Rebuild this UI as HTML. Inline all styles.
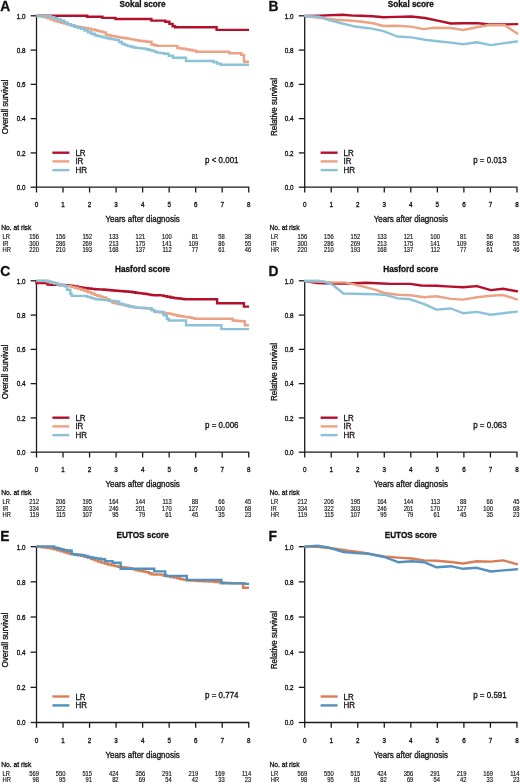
<!DOCTYPE html>
<html><head><meta charset="utf-8"><title>Survival curves</title>
<style>
html,body{margin:0;padding:0;background:#fff;}
body{width:520px;height:784px;overflow:hidden;}
svg{display:block;font-family:"Liberation Sans", sans-serif;filter:blur(0.3px);}
text{stroke:#151515;stroke-width:0.3px;}
.tb{stroke-width:0.15px;}
</style></head>
<body>
<svg width="520" height="784" viewBox="0 0 520 784">
<rect width="520" height="784" fill="#fff"/>
<text transform="translate(0.30,10.90) scale(1,1.06)" font-size="13.8" text-anchor="start" font-weight="bold" fill="#111" >A</text>
<text x="142.60" y="7.20" font-size="8.2" text-anchor="middle" font-weight="bold" fill="#111" >Sokal score</text>
<line x1="36.50" y1="15.30" x2="36.50" y2="187.70" stroke="#1a1a1a" stroke-width="1.3"/>
<line x1="30.60" y1="187.20" x2="36.50" y2="187.20" stroke="#1a1a1a" stroke-width="1.3"/>
<text transform="translate(25.40,190.00) scale(1,1.18)" font-size="6.3" text-anchor="end" font-weight="normal" fill="#151515" >0.0</text>
<line x1="30.60" y1="152.92" x2="36.50" y2="152.92" stroke="#1a1a1a" stroke-width="1.3"/>
<text transform="translate(25.40,155.72) scale(1,1.18)" font-size="6.3" text-anchor="end" font-weight="normal" fill="#151515" >0.2</text>
<line x1="30.60" y1="118.64" x2="36.50" y2="118.64" stroke="#1a1a1a" stroke-width="1.3"/>
<text transform="translate(25.40,121.44) scale(1,1.18)" font-size="6.3" text-anchor="end" font-weight="normal" fill="#151515" >0.4</text>
<line x1="30.60" y1="84.36" x2="36.50" y2="84.36" stroke="#1a1a1a" stroke-width="1.3"/>
<text transform="translate(25.40,87.16) scale(1,1.18)" font-size="6.3" text-anchor="end" font-weight="normal" fill="#151515" >0.6</text>
<line x1="30.60" y1="50.08" x2="36.50" y2="50.08" stroke="#1a1a1a" stroke-width="1.3"/>
<text transform="translate(25.40,52.88) scale(1,1.18)" font-size="6.3" text-anchor="end" font-weight="normal" fill="#151515" >0.8</text>
<line x1="30.60" y1="15.80" x2="36.50" y2="15.80" stroke="#1a1a1a" stroke-width="1.3"/>
<text transform="translate(25.40,18.60) scale(1,1.18)" font-size="6.3" text-anchor="end" font-weight="normal" fill="#151515" >1.0</text>
<text x="0" y="0" font-size="8" text-anchor="middle" fill="#151515" transform="translate(8.40,107.00) rotate(-90) scale(1,1.1)">Overall survival</text>
<line x1="36.00" y1="187.20" x2="249.25" y2="187.20" stroke="#1a1a1a" stroke-width="1.3"/>
<line x1="36.50" y1="187.20" x2="36.50" y2="192.50" stroke="#1a1a1a" stroke-width="1.3"/>
<text transform="translate(36.50,207.00) scale(1,1.18)" font-size="6.3" text-anchor="middle" font-weight="normal" fill="#151515" >0</text>
<line x1="63.03" y1="187.20" x2="63.03" y2="192.50" stroke="#1a1a1a" stroke-width="1.3"/>
<text transform="translate(63.03,207.00) scale(1,1.18)" font-size="6.3" text-anchor="middle" font-weight="normal" fill="#151515" >1</text>
<line x1="89.56" y1="187.20" x2="89.56" y2="192.50" stroke="#1a1a1a" stroke-width="1.3"/>
<text transform="translate(89.56,207.00) scale(1,1.18)" font-size="6.3" text-anchor="middle" font-weight="normal" fill="#151515" >2</text>
<line x1="116.09" y1="187.20" x2="116.09" y2="192.50" stroke="#1a1a1a" stroke-width="1.3"/>
<text transform="translate(116.09,207.00) scale(1,1.18)" font-size="6.3" text-anchor="middle" font-weight="normal" fill="#151515" >3</text>
<line x1="142.62" y1="187.20" x2="142.62" y2="192.50" stroke="#1a1a1a" stroke-width="1.3"/>
<text transform="translate(142.62,207.00) scale(1,1.18)" font-size="6.3" text-anchor="middle" font-weight="normal" fill="#151515" >4</text>
<line x1="169.16" y1="187.20" x2="169.16" y2="192.50" stroke="#1a1a1a" stroke-width="1.3"/>
<text transform="translate(169.16,207.00) scale(1,1.18)" font-size="6.3" text-anchor="middle" font-weight="normal" fill="#151515" >5</text>
<line x1="195.69" y1="187.20" x2="195.69" y2="192.50" stroke="#1a1a1a" stroke-width="1.3"/>
<text transform="translate(195.69,207.00) scale(1,1.18)" font-size="6.3" text-anchor="middle" font-weight="normal" fill="#151515" >6</text>
<line x1="222.22" y1="187.20" x2="222.22" y2="192.50" stroke="#1a1a1a" stroke-width="1.3"/>
<text transform="translate(222.22,207.00) scale(1,1.18)" font-size="6.3" text-anchor="middle" font-weight="normal" fill="#151515" >7</text>
<line x1="248.75" y1="187.20" x2="248.75" y2="192.50" stroke="#1a1a1a" stroke-width="1.3"/>
<text transform="translate(248.75,207.00) scale(1,1.18)" font-size="6.3" text-anchor="middle" font-weight="normal" fill="#151515" >8</text>
<text transform="translate(142.60,221.90) scale(1,1.1)" font-size="8" text-anchor="middle" font-weight="normal" fill="#151515" >Years after diagnosis</text>
<text transform="translate(1.20,230.10) scale(1,1.1)" font-size="6.7" text-anchor="start" font-weight="normal" fill="#151515" >No. at risk</text>
<text transform="translate(2.60,238.80) scale(1,1.1)" font-size="5.8" text-anchor="start" font-weight="normal" fill="#151515" class="tb">LR</text>
<text transform="translate(39.00,238.80) scale(1,1.1)" font-size="5.8" text-anchor="end" font-weight="normal" fill="#151515" class="tb">156</text>
<text transform="translate(65.53,238.80) scale(1,1.1)" font-size="5.8" text-anchor="end" font-weight="normal" fill="#151515" class="tb">156</text>
<text transform="translate(92.06,238.80) scale(1,1.1)" font-size="5.8" text-anchor="end" font-weight="normal" fill="#151515" class="tb">152</text>
<text transform="translate(118.59,238.80) scale(1,1.1)" font-size="5.8" text-anchor="end" font-weight="normal" fill="#151515" class="tb">133</text>
<text transform="translate(145.12,238.80) scale(1,1.1)" font-size="5.8" text-anchor="end" font-weight="normal" fill="#151515" class="tb">121</text>
<text transform="translate(171.66,238.80) scale(1,1.1)" font-size="5.8" text-anchor="end" font-weight="normal" fill="#151515" class="tb">100</text>
<text transform="translate(198.19,238.80) scale(1,1.1)" font-size="5.8" text-anchor="end" font-weight="normal" fill="#151515" class="tb">81</text>
<text transform="translate(224.72,238.80) scale(1,1.1)" font-size="5.8" text-anchor="end" font-weight="normal" fill="#151515" class="tb">58</text>
<text transform="translate(251.25,238.80) scale(1,1.1)" font-size="5.8" text-anchor="end" font-weight="normal" fill="#151515" class="tb">38</text>
<text transform="translate(2.60,245.60) scale(1,1.1)" font-size="5.8" text-anchor="start" font-weight="normal" fill="#151515" class="tb">IR</text>
<text transform="translate(39.00,245.60) scale(1,1.1)" font-size="5.8" text-anchor="end" font-weight="normal" fill="#151515" class="tb">300</text>
<text transform="translate(65.53,245.60) scale(1,1.1)" font-size="5.8" text-anchor="end" font-weight="normal" fill="#151515" class="tb">286</text>
<text transform="translate(92.06,245.60) scale(1,1.1)" font-size="5.8" text-anchor="end" font-weight="normal" fill="#151515" class="tb">269</text>
<text transform="translate(118.59,245.60) scale(1,1.1)" font-size="5.8" text-anchor="end" font-weight="normal" fill="#151515" class="tb">213</text>
<text transform="translate(145.12,245.60) scale(1,1.1)" font-size="5.8" text-anchor="end" font-weight="normal" fill="#151515" class="tb">175</text>
<text transform="translate(171.66,245.60) scale(1,1.1)" font-size="5.8" text-anchor="end" font-weight="normal" fill="#151515" class="tb">141</text>
<text transform="translate(198.19,245.60) scale(1,1.1)" font-size="5.8" text-anchor="end" font-weight="normal" fill="#151515" class="tb">109</text>
<text transform="translate(224.72,245.60) scale(1,1.1)" font-size="5.8" text-anchor="end" font-weight="normal" fill="#151515" class="tb">86</text>
<text transform="translate(251.25,245.60) scale(1,1.1)" font-size="5.8" text-anchor="end" font-weight="normal" fill="#151515" class="tb">55</text>
<text transform="translate(2.60,252.30) scale(1,1.1)" font-size="5.8" text-anchor="start" font-weight="normal" fill="#151515" class="tb">HR</text>
<text transform="translate(39.00,252.30) scale(1,1.1)" font-size="5.8" text-anchor="end" font-weight="normal" fill="#151515" class="tb">220</text>
<text transform="translate(65.53,252.30) scale(1,1.1)" font-size="5.8" text-anchor="end" font-weight="normal" fill="#151515" class="tb">210</text>
<text transform="translate(92.06,252.30) scale(1,1.1)" font-size="5.8" text-anchor="end" font-weight="normal" fill="#151515" class="tb">193</text>
<text transform="translate(118.59,252.30) scale(1,1.1)" font-size="5.8" text-anchor="end" font-weight="normal" fill="#151515" class="tb">168</text>
<text transform="translate(145.12,252.30) scale(1,1.1)" font-size="5.8" text-anchor="end" font-weight="normal" fill="#151515" class="tb">137</text>
<text transform="translate(171.66,252.30) scale(1,1.1)" font-size="5.8" text-anchor="end" font-weight="normal" fill="#151515" class="tb">112</text>
<text transform="translate(198.19,252.30) scale(1,1.1)" font-size="5.8" text-anchor="end" font-weight="normal" fill="#151515" class="tb">77</text>
<text transform="translate(224.72,252.30) scale(1,1.1)" font-size="5.8" text-anchor="end" font-weight="normal" fill="#151515" class="tb">61</text>
<text transform="translate(251.25,252.30) scale(1,1.1)" font-size="5.8" text-anchor="end" font-weight="normal" fill="#151515" class="tb">46</text>
<line x1="52.40" y1="152.70" x2="69.40" y2="152.70" stroke="#b3102c" stroke-width="2.4"/>
<text transform="translate(75.40,155.70) scale(1,1.1)" font-size="8" text-anchor="start" font-weight="normal" fill="#151515" >LR</text>
<line x1="52.40" y1="161.40" x2="69.40" y2="161.40" stroke="#eba384" stroke-width="2.4"/>
<text transform="translate(75.40,164.40) scale(1,1.1)" font-size="8" text-anchor="start" font-weight="normal" fill="#151515" >IR</text>
<line x1="52.40" y1="170.10" x2="69.40" y2="170.10" stroke="#8cc2d8" stroke-width="2.4"/>
<text transform="translate(75.40,173.10) scale(1,1.1)" font-size="8" text-anchor="start" font-weight="normal" fill="#151515" >HR</text>
<text transform="translate(205.00,163.40) scale(1,1.1)" font-size="8" text-anchor="start" font-weight="normal" fill="#151515" >p &lt; 0.001</text>
<polyline points="36.50,15.70 87.20,15.70 87.20,16.80 102.40,16.80 102.40,17.90 115.40,17.90 115.40,19.00 151.40,19.00 151.40,20.60 163.00,20.60 165.30,20.60 165.30,21.80 169.40,21.80 169.40,23.90 172.60,23.90 172.60,26.30 175.10,26.30 175.10,27.30 216.60,27.30 216.60,29.90 249.00,29.90" fill="none" stroke="#b3102c" stroke-width="2.4" stroke-linejoin="miter" stroke-linecap="butt"/>
<polyline points="36.50,16.00 40.70,16.00 40.70,16.50 44.10,16.50 44.10,17.40 47.50,17.40 47.50,18.30 50.85,18.30 50.85,19.55 54.20,19.55 54.20,20.80 57.55,20.80 57.55,21.80 60.90,21.80 60.90,22.80 64.25,22.80 64.25,23.65 67.60,23.65 67.60,24.50 71.00,24.50 71.00,25.35 74.40,25.35 74.40,26.20 77.75,26.20 77.75,26.85 81.10,26.85 81.10,27.50 84.45,27.50 84.45,28.15 87.80,28.15 87.80,28.80 91.20,28.80 91.20,29.50 94.60,29.50 94.60,30.20 97.43,30.20 97.43,30.93 100.27,30.93 100.27,31.67 103.10,31.67 103.10,32.40 105.80,32.40 105.80,34.70 108.47,34.70 108.47,35.27 111.13,35.27 111.13,35.83 113.80,35.83 113.80,36.40 116.50,36.40 116.50,36.87 119.20,36.87 119.20,37.33 121.90,37.33 121.90,37.80 124.60,37.80 124.60,38.23 127.30,38.23 127.30,38.67 130.00,38.67 130.00,39.10 132.70,39.10 132.70,39.63 135.40,39.63 135.40,40.17 138.10,40.17 138.10,40.70 141.23,40.70 141.23,41.07 144.37,41.07 144.37,41.43 147.50,41.43 147.50,41.80 151.50,41.80 151.50,44.50 154.20,44.50 154.20,45.20 156.90,45.20 156.90,45.90 177.30,45.90 177.30,48.00 179.90,48.00 179.90,48.40 182.50,48.40 182.50,48.80 185.97,48.80 185.97,49.40 189.43,49.40 189.43,50.00 192.90,50.00 192.90,50.60 196.30,50.60 196.30,51.80 229.20,51.80 229.20,53.20 241.30,53.20 241.30,54.90 243.90,54.90 243.90,61.80 249.00,61.80" fill="none" stroke="#eba384" stroke-width="2.4" stroke-linejoin="miter" stroke-linecap="butt"/>
<polyline points="36.50,16.00 39.25,16.00 39.25,16.02 42.00,16.02 42.00,16.05 44.75,16.05 44.75,16.08 47.50,16.08 47.50,16.10 50.85,16.10 50.85,17.20 54.20,17.20 54.20,18.30 57.55,18.30 57.55,19.55 60.90,19.55 60.90,20.80 64.25,20.80 64.25,22.45 67.60,22.45 67.60,24.10 71.00,24.10 71.00,25.45 74.40,25.45 74.40,26.80 77.75,26.80 77.75,27.80 81.10,27.80 81.10,28.80 84.45,28.80 84.45,30.50 87.80,30.50 87.80,32.20 91.20,32.20 91.20,33.70 94.60,33.70 94.60,35.20 97.43,35.20 97.43,35.93 100.27,35.93 100.27,36.67 103.10,36.67 103.10,37.40 105.80,37.40 105.80,37.97 108.50,37.97 108.50,38.53 111.20,38.53 111.20,39.10 113.85,39.10 113.85,39.60 116.50,39.60 116.50,40.10 119.20,40.10 119.20,41.95 121.90,41.95 121.90,43.80 124.60,43.80 124.60,44.85 127.30,44.85 127.30,45.90 130.00,45.90 130.00,46.57 132.70,46.57 132.70,47.23 135.40,47.23 135.40,47.90 138.10,47.90 138.10,48.13 140.80,48.13 140.80,48.37 143.50,48.37 143.50,48.60 146.17,48.60 146.17,49.27 148.83,49.27 148.83,49.93 151.50,49.93 151.50,50.60 154.20,50.60 154.20,51.60 156.90,51.60 156.90,52.60 160.60,52.60 160.60,53.15 164.30,53.15 164.30,53.70 168.70,53.70 168.70,55.80 173.00,55.80 173.00,57.80 186.00,57.80 186.00,61.00 213.60,61.00 213.60,62.30 217.10,62.30 217.10,63.60 220.60,63.60 220.60,64.80 249.00,64.80" fill="none" stroke="#8cc2d8" stroke-width="2.4" stroke-linejoin="miter" stroke-linecap="butt"/>
<text transform="translate(268.50,10.90) scale(1,1.06)" font-size="13.8" text-anchor="start" font-weight="bold" fill="#111" >B</text>
<text x="410.80" y="7.20" font-size="8.2" text-anchor="middle" font-weight="bold" fill="#111" >Sokal score</text>
<line x1="304.70" y1="15.30" x2="304.70" y2="187.70" stroke="#1a1a1a" stroke-width="1.3"/>
<line x1="298.80" y1="187.20" x2="304.70" y2="187.20" stroke="#1a1a1a" stroke-width="1.3"/>
<text transform="translate(293.60,190.00) scale(1,1.18)" font-size="6.3" text-anchor="end" font-weight="normal" fill="#151515" >0.0</text>
<line x1="298.80" y1="152.92" x2="304.70" y2="152.92" stroke="#1a1a1a" stroke-width="1.3"/>
<text transform="translate(293.60,155.72) scale(1,1.18)" font-size="6.3" text-anchor="end" font-weight="normal" fill="#151515" >0.2</text>
<line x1="298.80" y1="118.64" x2="304.70" y2="118.64" stroke="#1a1a1a" stroke-width="1.3"/>
<text transform="translate(293.60,121.44) scale(1,1.18)" font-size="6.3" text-anchor="end" font-weight="normal" fill="#151515" >0.4</text>
<line x1="298.80" y1="84.36" x2="304.70" y2="84.36" stroke="#1a1a1a" stroke-width="1.3"/>
<text transform="translate(293.60,87.16) scale(1,1.18)" font-size="6.3" text-anchor="end" font-weight="normal" fill="#151515" >0.6</text>
<line x1="298.80" y1="50.08" x2="304.70" y2="50.08" stroke="#1a1a1a" stroke-width="1.3"/>
<text transform="translate(293.60,52.88) scale(1,1.18)" font-size="6.3" text-anchor="end" font-weight="normal" fill="#151515" >0.8</text>
<line x1="298.80" y1="15.80" x2="304.70" y2="15.80" stroke="#1a1a1a" stroke-width="1.3"/>
<text transform="translate(293.60,18.60) scale(1,1.18)" font-size="6.3" text-anchor="end" font-weight="normal" fill="#151515" >1.0</text>
<text x="0" y="0" font-size="8" text-anchor="middle" fill="#151515" transform="translate(276.60,107.00) rotate(-90) scale(1,1.1)">Relative survival</text>
<line x1="304.20" y1="187.20" x2="517.45" y2="187.20" stroke="#1a1a1a" stroke-width="1.3"/>
<line x1="304.70" y1="187.20" x2="304.70" y2="192.50" stroke="#1a1a1a" stroke-width="1.3"/>
<text transform="translate(304.70,207.00) scale(1,1.18)" font-size="6.3" text-anchor="middle" font-weight="normal" fill="#151515" >0</text>
<line x1="331.23" y1="187.20" x2="331.23" y2="192.50" stroke="#1a1a1a" stroke-width="1.3"/>
<text transform="translate(331.23,207.00) scale(1,1.18)" font-size="6.3" text-anchor="middle" font-weight="normal" fill="#151515" >1</text>
<line x1="357.76" y1="187.20" x2="357.76" y2="192.50" stroke="#1a1a1a" stroke-width="1.3"/>
<text transform="translate(357.76,207.00) scale(1,1.18)" font-size="6.3" text-anchor="middle" font-weight="normal" fill="#151515" >2</text>
<line x1="384.29" y1="187.20" x2="384.29" y2="192.50" stroke="#1a1a1a" stroke-width="1.3"/>
<text transform="translate(384.29,207.00) scale(1,1.18)" font-size="6.3" text-anchor="middle" font-weight="normal" fill="#151515" >3</text>
<line x1="410.82" y1="187.20" x2="410.82" y2="192.50" stroke="#1a1a1a" stroke-width="1.3"/>
<text transform="translate(410.82,207.00) scale(1,1.18)" font-size="6.3" text-anchor="middle" font-weight="normal" fill="#151515" >4</text>
<line x1="437.36" y1="187.20" x2="437.36" y2="192.50" stroke="#1a1a1a" stroke-width="1.3"/>
<text transform="translate(437.36,207.00) scale(1,1.18)" font-size="6.3" text-anchor="middle" font-weight="normal" fill="#151515" >5</text>
<line x1="463.89" y1="187.20" x2="463.89" y2="192.50" stroke="#1a1a1a" stroke-width="1.3"/>
<text transform="translate(463.89,207.00) scale(1,1.18)" font-size="6.3" text-anchor="middle" font-weight="normal" fill="#151515" >6</text>
<line x1="490.42" y1="187.20" x2="490.42" y2="192.50" stroke="#1a1a1a" stroke-width="1.3"/>
<text transform="translate(490.42,207.00) scale(1,1.18)" font-size="6.3" text-anchor="middle" font-weight="normal" fill="#151515" >7</text>
<line x1="516.95" y1="187.20" x2="516.95" y2="192.50" stroke="#1a1a1a" stroke-width="1.3"/>
<text transform="translate(516.95,207.00) scale(1,1.18)" font-size="6.3" text-anchor="middle" font-weight="normal" fill="#151515" >8</text>
<text transform="translate(410.80,221.90) scale(1,1.1)" font-size="8" text-anchor="middle" font-weight="normal" fill="#151515" >Years after diagnosis</text>
<text transform="translate(269.40,230.10) scale(1,1.1)" font-size="6.7" text-anchor="start" font-weight="normal" fill="#151515" >No. at risk</text>
<text transform="translate(270.80,238.80) scale(1,1.1)" font-size="5.8" text-anchor="start" font-weight="normal" fill="#151515" class="tb">LR</text>
<text transform="translate(307.20,238.80) scale(1,1.1)" font-size="5.8" text-anchor="end" font-weight="normal" fill="#151515" class="tb">156</text>
<text transform="translate(333.73,238.80) scale(1,1.1)" font-size="5.8" text-anchor="end" font-weight="normal" fill="#151515" class="tb">156</text>
<text transform="translate(360.26,238.80) scale(1,1.1)" font-size="5.8" text-anchor="end" font-weight="normal" fill="#151515" class="tb">152</text>
<text transform="translate(386.79,238.80) scale(1,1.1)" font-size="5.8" text-anchor="end" font-weight="normal" fill="#151515" class="tb">133</text>
<text transform="translate(413.32,238.80) scale(1,1.1)" font-size="5.8" text-anchor="end" font-weight="normal" fill="#151515" class="tb">121</text>
<text transform="translate(439.86,238.80) scale(1,1.1)" font-size="5.8" text-anchor="end" font-weight="normal" fill="#151515" class="tb">100</text>
<text transform="translate(466.39,238.80) scale(1,1.1)" font-size="5.8" text-anchor="end" font-weight="normal" fill="#151515" class="tb">81</text>
<text transform="translate(492.92,238.80) scale(1,1.1)" font-size="5.8" text-anchor="end" font-weight="normal" fill="#151515" class="tb">58</text>
<text transform="translate(519.45,238.80) scale(1,1.1)" font-size="5.8" text-anchor="end" font-weight="normal" fill="#151515" class="tb">38</text>
<text transform="translate(270.80,245.60) scale(1,1.1)" font-size="5.8" text-anchor="start" font-weight="normal" fill="#151515" class="tb">IR</text>
<text transform="translate(307.20,245.60) scale(1,1.1)" font-size="5.8" text-anchor="end" font-weight="normal" fill="#151515" class="tb">300</text>
<text transform="translate(333.73,245.60) scale(1,1.1)" font-size="5.8" text-anchor="end" font-weight="normal" fill="#151515" class="tb">286</text>
<text transform="translate(360.26,245.60) scale(1,1.1)" font-size="5.8" text-anchor="end" font-weight="normal" fill="#151515" class="tb">269</text>
<text transform="translate(386.79,245.60) scale(1,1.1)" font-size="5.8" text-anchor="end" font-weight="normal" fill="#151515" class="tb">213</text>
<text transform="translate(413.32,245.60) scale(1,1.1)" font-size="5.8" text-anchor="end" font-weight="normal" fill="#151515" class="tb">175</text>
<text transform="translate(439.86,245.60) scale(1,1.1)" font-size="5.8" text-anchor="end" font-weight="normal" fill="#151515" class="tb">141</text>
<text transform="translate(466.39,245.60) scale(1,1.1)" font-size="5.8" text-anchor="end" font-weight="normal" fill="#151515" class="tb">109</text>
<text transform="translate(492.92,245.60) scale(1,1.1)" font-size="5.8" text-anchor="end" font-weight="normal" fill="#151515" class="tb">86</text>
<text transform="translate(519.45,245.60) scale(1,1.1)" font-size="5.8" text-anchor="end" font-weight="normal" fill="#151515" class="tb">55</text>
<text transform="translate(270.80,252.30) scale(1,1.1)" font-size="5.8" text-anchor="start" font-weight="normal" fill="#151515" class="tb">HR</text>
<text transform="translate(307.20,252.30) scale(1,1.1)" font-size="5.8" text-anchor="end" font-weight="normal" fill="#151515" class="tb">220</text>
<text transform="translate(333.73,252.30) scale(1,1.1)" font-size="5.8" text-anchor="end" font-weight="normal" fill="#151515" class="tb">210</text>
<text transform="translate(360.26,252.30) scale(1,1.1)" font-size="5.8" text-anchor="end" font-weight="normal" fill="#151515" class="tb">193</text>
<text transform="translate(386.79,252.30) scale(1,1.1)" font-size="5.8" text-anchor="end" font-weight="normal" fill="#151515" class="tb">168</text>
<text transform="translate(413.32,252.30) scale(1,1.1)" font-size="5.8" text-anchor="end" font-weight="normal" fill="#151515" class="tb">137</text>
<text transform="translate(439.86,252.30) scale(1,1.1)" font-size="5.8" text-anchor="end" font-weight="normal" fill="#151515" class="tb">112</text>
<text transform="translate(466.39,252.30) scale(1,1.1)" font-size="5.8" text-anchor="end" font-weight="normal" fill="#151515" class="tb">77</text>
<text transform="translate(492.92,252.30) scale(1,1.1)" font-size="5.8" text-anchor="end" font-weight="normal" fill="#151515" class="tb">61</text>
<text transform="translate(519.45,252.30) scale(1,1.1)" font-size="5.8" text-anchor="end" font-weight="normal" fill="#151515" class="tb">46</text>
<line x1="320.60" y1="152.70" x2="337.60" y2="152.70" stroke="#b3102c" stroke-width="2.4"/>
<text transform="translate(343.60,155.70) scale(1,1.1)" font-size="8" text-anchor="start" font-weight="normal" fill="#151515" >LR</text>
<line x1="320.60" y1="161.40" x2="337.60" y2="161.40" stroke="#eba384" stroke-width="2.4"/>
<text transform="translate(343.60,164.40) scale(1,1.1)" font-size="8" text-anchor="start" font-weight="normal" fill="#151515" >IR</text>
<line x1="320.60" y1="170.10" x2="337.60" y2="170.10" stroke="#8cc2d8" stroke-width="2.4"/>
<text transform="translate(343.60,173.10) scale(1,1.1)" font-size="8" text-anchor="start" font-weight="normal" fill="#151515" >HR</text>
<text transform="translate(473.20,163.40) scale(1,1.1)" font-size="8" text-anchor="start" font-weight="normal" fill="#151515" >p = 0.013</text>
<polyline points="305.00,16.00 319.50,15.60 342.40,14.70 353.10,15.60 361.20,15.70 372.70,16.20 383.50,17.30 395.80,16.90 411.20,16.50 425.00,18.00 440.00,21.20 450.80,23.50 463.10,23.20 476.90,23.10 487.70,24.20 504.60,24.40 517.20,24.10" fill="none" stroke="#b3102c" stroke-width="2.4" stroke-linejoin="round" stroke-linecap="round"/>
<polyline points="305.00,16.00 319.50,17.80 335.60,19.70 349.10,20.50 362.60,21.80 374.20,23.50 383.50,26.00 395.80,25.70 411.20,26.60 423.50,29.10 434.20,27.70 450.80,28.00 463.10,30.00 476.90,27.20 487.70,25.20 504.60,25.10 517.20,33.60" fill="none" stroke="#eba384" stroke-width="2.4" stroke-linejoin="round" stroke-linecap="round"/>
<polyline points="305.00,16.00 319.50,16.80 328.90,20.10 342.40,23.50 353.10,26.20 362.60,27.50 372.00,28.60 383.50,31.20 397.30,36.50 411.20,37.40 426.50,40.00 440.00,41.50 450.80,42.60 463.10,44.20 476.90,42.30 490.80,45.10 504.60,43.10 516.90,41.50" fill="none" stroke="#8cc2d8" stroke-width="2.4" stroke-linejoin="round" stroke-linecap="round"/>
<text transform="translate(0.30,275.90) scale(1,1.06)" font-size="13.8" text-anchor="start" font-weight="bold" fill="#111" >C</text>
<text x="142.60" y="272.20" font-size="8.2" text-anchor="middle" font-weight="bold" fill="#111" >Hasford score</text>
<line x1="36.50" y1="280.30" x2="36.50" y2="452.70" stroke="#1a1a1a" stroke-width="1.3"/>
<line x1="30.60" y1="452.20" x2="36.50" y2="452.20" stroke="#1a1a1a" stroke-width="1.3"/>
<text transform="translate(25.40,455.00) scale(1,1.18)" font-size="6.3" text-anchor="end" font-weight="normal" fill="#151515" >0.0</text>
<line x1="30.60" y1="417.92" x2="36.50" y2="417.92" stroke="#1a1a1a" stroke-width="1.3"/>
<text transform="translate(25.40,420.72) scale(1,1.18)" font-size="6.3" text-anchor="end" font-weight="normal" fill="#151515" >0.2</text>
<line x1="30.60" y1="383.64" x2="36.50" y2="383.64" stroke="#1a1a1a" stroke-width="1.3"/>
<text transform="translate(25.40,386.44) scale(1,1.18)" font-size="6.3" text-anchor="end" font-weight="normal" fill="#151515" >0.4</text>
<line x1="30.60" y1="349.36" x2="36.50" y2="349.36" stroke="#1a1a1a" stroke-width="1.3"/>
<text transform="translate(25.40,352.16) scale(1,1.18)" font-size="6.3" text-anchor="end" font-weight="normal" fill="#151515" >0.6</text>
<line x1="30.60" y1="315.08" x2="36.50" y2="315.08" stroke="#1a1a1a" stroke-width="1.3"/>
<text transform="translate(25.40,317.88) scale(1,1.18)" font-size="6.3" text-anchor="end" font-weight="normal" fill="#151515" >0.8</text>
<line x1="30.60" y1="280.80" x2="36.50" y2="280.80" stroke="#1a1a1a" stroke-width="1.3"/>
<text transform="translate(25.40,283.60) scale(1,1.18)" font-size="6.3" text-anchor="end" font-weight="normal" fill="#151515" >1.0</text>
<text x="0" y="0" font-size="8" text-anchor="middle" fill="#151515" transform="translate(8.40,372.00) rotate(-90) scale(1,1.1)">Overall survival</text>
<line x1="36.00" y1="452.20" x2="249.25" y2="452.20" stroke="#1a1a1a" stroke-width="1.3"/>
<line x1="36.50" y1="452.20" x2="36.50" y2="457.50" stroke="#1a1a1a" stroke-width="1.3"/>
<text transform="translate(36.50,472.00) scale(1,1.18)" font-size="6.3" text-anchor="middle" font-weight="normal" fill="#151515" >0</text>
<line x1="63.03" y1="452.20" x2="63.03" y2="457.50" stroke="#1a1a1a" stroke-width="1.3"/>
<text transform="translate(63.03,472.00) scale(1,1.18)" font-size="6.3" text-anchor="middle" font-weight="normal" fill="#151515" >1</text>
<line x1="89.56" y1="452.20" x2="89.56" y2="457.50" stroke="#1a1a1a" stroke-width="1.3"/>
<text transform="translate(89.56,472.00) scale(1,1.18)" font-size="6.3" text-anchor="middle" font-weight="normal" fill="#151515" >2</text>
<line x1="116.09" y1="452.20" x2="116.09" y2="457.50" stroke="#1a1a1a" stroke-width="1.3"/>
<text transform="translate(116.09,472.00) scale(1,1.18)" font-size="6.3" text-anchor="middle" font-weight="normal" fill="#151515" >3</text>
<line x1="142.62" y1="452.20" x2="142.62" y2="457.50" stroke="#1a1a1a" stroke-width="1.3"/>
<text transform="translate(142.62,472.00) scale(1,1.18)" font-size="6.3" text-anchor="middle" font-weight="normal" fill="#151515" >4</text>
<line x1="169.16" y1="452.20" x2="169.16" y2="457.50" stroke="#1a1a1a" stroke-width="1.3"/>
<text transform="translate(169.16,472.00) scale(1,1.18)" font-size="6.3" text-anchor="middle" font-weight="normal" fill="#151515" >5</text>
<line x1="195.69" y1="452.20" x2="195.69" y2="457.50" stroke="#1a1a1a" stroke-width="1.3"/>
<text transform="translate(195.69,472.00) scale(1,1.18)" font-size="6.3" text-anchor="middle" font-weight="normal" fill="#151515" >6</text>
<line x1="222.22" y1="452.20" x2="222.22" y2="457.50" stroke="#1a1a1a" stroke-width="1.3"/>
<text transform="translate(222.22,472.00) scale(1,1.18)" font-size="6.3" text-anchor="middle" font-weight="normal" fill="#151515" >7</text>
<line x1="248.75" y1="452.20" x2="248.75" y2="457.50" stroke="#1a1a1a" stroke-width="1.3"/>
<text transform="translate(248.75,472.00) scale(1,1.18)" font-size="6.3" text-anchor="middle" font-weight="normal" fill="#151515" >8</text>
<text transform="translate(142.60,486.90) scale(1,1.1)" font-size="8" text-anchor="middle" font-weight="normal" fill="#151515" >Years after diagnosis</text>
<text transform="translate(1.20,495.10) scale(1,1.1)" font-size="6.7" text-anchor="start" font-weight="normal" fill="#151515" >No. at risk</text>
<text transform="translate(2.60,503.80) scale(1,1.1)" font-size="5.8" text-anchor="start" font-weight="normal" fill="#151515" class="tb">LR</text>
<text transform="translate(39.00,503.80) scale(1,1.1)" font-size="5.8" text-anchor="end" font-weight="normal" fill="#151515" class="tb">212</text>
<text transform="translate(65.53,503.80) scale(1,1.1)" font-size="5.8" text-anchor="end" font-weight="normal" fill="#151515" class="tb">206</text>
<text transform="translate(92.06,503.80) scale(1,1.1)" font-size="5.8" text-anchor="end" font-weight="normal" fill="#151515" class="tb">195</text>
<text transform="translate(118.59,503.80) scale(1,1.1)" font-size="5.8" text-anchor="end" font-weight="normal" fill="#151515" class="tb">164</text>
<text transform="translate(145.12,503.80) scale(1,1.1)" font-size="5.8" text-anchor="end" font-weight="normal" fill="#151515" class="tb">144</text>
<text transform="translate(171.66,503.80) scale(1,1.1)" font-size="5.8" text-anchor="end" font-weight="normal" fill="#151515" class="tb">113</text>
<text transform="translate(198.19,503.80) scale(1,1.1)" font-size="5.8" text-anchor="end" font-weight="normal" fill="#151515" class="tb">88</text>
<text transform="translate(224.72,503.80) scale(1,1.1)" font-size="5.8" text-anchor="end" font-weight="normal" fill="#151515" class="tb">66</text>
<text transform="translate(251.25,503.80) scale(1,1.1)" font-size="5.8" text-anchor="end" font-weight="normal" fill="#151515" class="tb">45</text>
<text transform="translate(2.60,510.60) scale(1,1.1)" font-size="5.8" text-anchor="start" font-weight="normal" fill="#151515" class="tb">IR</text>
<text transform="translate(39.00,510.60) scale(1,1.1)" font-size="5.8" text-anchor="end" font-weight="normal" fill="#151515" class="tb">334</text>
<text transform="translate(65.53,510.60) scale(1,1.1)" font-size="5.8" text-anchor="end" font-weight="normal" fill="#151515" class="tb">322</text>
<text transform="translate(92.06,510.60) scale(1,1.1)" font-size="5.8" text-anchor="end" font-weight="normal" fill="#151515" class="tb">303</text>
<text transform="translate(118.59,510.60) scale(1,1.1)" font-size="5.8" text-anchor="end" font-weight="normal" fill="#151515" class="tb">246</text>
<text transform="translate(145.12,510.60) scale(1,1.1)" font-size="5.8" text-anchor="end" font-weight="normal" fill="#151515" class="tb">201</text>
<text transform="translate(171.66,510.60) scale(1,1.1)" font-size="5.8" text-anchor="end" font-weight="normal" fill="#151515" class="tb">170</text>
<text transform="translate(198.19,510.60) scale(1,1.1)" font-size="5.8" text-anchor="end" font-weight="normal" fill="#151515" class="tb">127</text>
<text transform="translate(224.72,510.60) scale(1,1.1)" font-size="5.8" text-anchor="end" font-weight="normal" fill="#151515" class="tb">100</text>
<text transform="translate(251.25,510.60) scale(1,1.1)" font-size="5.8" text-anchor="end" font-weight="normal" fill="#151515" class="tb">68</text>
<text transform="translate(2.60,517.30) scale(1,1.1)" font-size="5.8" text-anchor="start" font-weight="normal" fill="#151515" class="tb">HR</text>
<text transform="translate(39.00,517.30) scale(1,1.1)" font-size="5.8" text-anchor="end" font-weight="normal" fill="#151515" class="tb">119</text>
<text transform="translate(65.53,517.30) scale(1,1.1)" font-size="5.8" text-anchor="end" font-weight="normal" fill="#151515" class="tb">115</text>
<text transform="translate(92.06,517.30) scale(1,1.1)" font-size="5.8" text-anchor="end" font-weight="normal" fill="#151515" class="tb">107</text>
<text transform="translate(118.59,517.30) scale(1,1.1)" font-size="5.8" text-anchor="end" font-weight="normal" fill="#151515" class="tb">95</text>
<text transform="translate(145.12,517.30) scale(1,1.1)" font-size="5.8" text-anchor="end" font-weight="normal" fill="#151515" class="tb">79</text>
<text transform="translate(171.66,517.30) scale(1,1.1)" font-size="5.8" text-anchor="end" font-weight="normal" fill="#151515" class="tb">61</text>
<text transform="translate(198.19,517.30) scale(1,1.1)" font-size="5.8" text-anchor="end" font-weight="normal" fill="#151515" class="tb">45</text>
<text transform="translate(224.72,517.30) scale(1,1.1)" font-size="5.8" text-anchor="end" font-weight="normal" fill="#151515" class="tb">35</text>
<text transform="translate(251.25,517.30) scale(1,1.1)" font-size="5.8" text-anchor="end" font-weight="normal" fill="#151515" class="tb">23</text>
<line x1="52.40" y1="417.70" x2="69.40" y2="417.70" stroke="#b3102c" stroke-width="2.4"/>
<text transform="translate(75.40,420.70) scale(1,1.1)" font-size="8" text-anchor="start" font-weight="normal" fill="#151515" >LR</text>
<line x1="52.40" y1="426.40" x2="69.40" y2="426.40" stroke="#eba384" stroke-width="2.4"/>
<text transform="translate(75.40,429.40) scale(1,1.1)" font-size="8" text-anchor="start" font-weight="normal" fill="#151515" >IR</text>
<line x1="52.40" y1="435.10" x2="69.40" y2="435.10" stroke="#8cc2d8" stroke-width="2.4"/>
<text transform="translate(75.40,438.10) scale(1,1.1)" font-size="8" text-anchor="start" font-weight="normal" fill="#151515" >HR</text>
<text transform="translate(205.00,428.40) scale(1,1.1)" font-size="8" text-anchor="start" font-weight="normal" fill="#151515" >p = 0.006</text>
<polyline points="36.50,281.00 36.50,283.10 46.00,283.10 47.50,283.10 47.50,284.60 50.42,284.60 50.42,284.68 53.33,284.68 53.33,284.77 56.25,284.77 56.25,284.85 59.17,284.85 59.17,284.93 62.08,284.93 62.08,285.02 65.00,285.02 65.00,285.10 68.13,285.10 68.13,285.53 71.27,285.53 71.27,285.97 74.40,285.97 74.40,286.40 77.75,286.40 77.75,287.10 81.10,287.10 81.10,287.80 84.45,287.80 84.45,288.15 87.80,288.15 87.80,288.50 91.40,288.50 91.40,288.85 95.00,288.85 95.00,289.20 98.13,289.20 98.13,289.37 101.27,289.37 101.27,289.53 104.40,289.53 104.40,289.70 107.10,289.70 107.10,289.98 109.80,289.98 109.80,290.25 112.50,290.25 112.50,290.52 115.20,290.52 115.20,290.80 118.55,290.80 118.55,291.05 121.90,291.05 121.90,291.30 125.25,291.30 125.25,291.55 128.60,291.55 128.60,291.80 132.00,291.80 132.00,292.30 135.40,292.30 135.40,292.80 138.10,292.80 138.10,293.10 140.80,293.10 140.80,293.40 143.50,293.40 143.50,293.70 146.17,293.70 146.17,294.17 148.83,294.17 148.83,294.63 151.50,294.63 151.50,295.10 154.33,295.10 154.33,295.20 157.17,295.20 157.17,295.30 160.00,295.30 160.00,295.40 163.47,295.40 163.47,296.10 166.93,296.10 166.93,296.80 170.40,296.80 170.40,297.50 173.16,297.50 173.16,297.84 175.92,297.84 175.92,298.18 178.68,298.18 178.68,298.52 181.44,298.52 181.44,298.86 184.20,298.86 184.20,299.20 215.40,299.20 217.10,299.20 217.10,303.20 243.90,303.20 243.90,306.60 249.00,306.60" fill="none" stroke="#b3102c" stroke-width="2.4" stroke-linejoin="miter" stroke-linecap="butt"/>
<polyline points="36.50,281.00 39.70,281.00 39.70,280.97 42.90,280.97 42.90,280.93 46.10,280.93 46.10,280.90 47.50,280.90 47.50,281.70 50.85,281.70 50.85,282.50 54.20,282.50 54.20,283.30 57.55,283.30 57.55,284.20 60.90,284.20 60.90,285.10 65.00,285.10 65.00,286.00 67.60,286.00 71.00,286.00 71.00,286.90 74.40,286.90 74.40,287.80 77.75,287.80 77.75,288.80 81.10,288.80 81.10,289.80 84.45,289.80 84.45,291.00 87.80,291.00 87.80,292.20 91.20,292.20 91.20,293.55 94.60,293.55 94.60,294.90 97.43,294.90 97.43,295.77 100.27,295.77 100.27,296.63 103.10,296.63 103.10,297.50 106.23,297.50 106.23,299.30 109.37,299.30 109.37,301.10 112.50,301.10 112.50,302.90 115.63,302.90 115.63,303.57 118.77,303.57 118.77,304.23 121.90,304.23 121.90,304.90 125.28,304.90 125.28,305.57 128.65,305.57 128.65,306.25 132.03,306.25 132.03,306.93 135.40,306.93 135.40,307.60 138.75,307.60 138.75,307.83 142.10,307.83 142.10,308.05 145.45,308.05 145.45,308.27 148.80,308.27 148.80,308.50 151.50,308.50 151.50,310.15 154.20,310.15 154.20,311.80 157.10,311.80 157.10,312.16 160.00,312.16 160.00,312.52 162.90,312.52 162.90,312.88 165.80,312.88 165.80,313.24 168.70,313.24 168.70,313.60 171.57,313.60 171.57,314.33 174.43,314.33 174.43,315.07 177.30,315.07 177.30,315.80 180.20,315.80 180.20,316.20 183.10,316.20 183.10,316.60 186.00,316.60 186.00,317.00 188.87,317.00 188.87,317.57 191.73,317.57 191.73,318.13 194.60,318.13 194.60,318.70 229.20,318.70 232.70,318.70 232.70,320.50 235.57,320.50 235.57,320.77 238.43,320.77 238.43,321.03 241.30,321.03 241.30,321.30 244.80,321.30 244.80,325.30 249.00,325.30" fill="none" stroke="#eba384" stroke-width="2.4" stroke-linejoin="miter" stroke-linecap="butt"/>
<polyline points="36.50,280.80 46.10,280.80 47.50,280.80 47.50,281.70 50.85,281.70 50.85,282.50 54.20,282.50 54.20,283.30 57.55,283.30 57.55,284.20 60.90,284.20 60.90,285.10 65.00,285.10 65.00,286.40 67.00,286.40 67.00,289.80 70.30,289.80 70.30,293.80 71.70,293.80 71.70,295.90 83.80,295.90 87.15,295.90 87.15,296.90 90.50,296.90 90.50,297.90 93.20,297.90 93.20,298.60 95.90,298.60 95.90,299.30 99.20,299.30 99.20,299.60 102.50,299.60 102.50,299.90 105.80,299.90 105.80,300.20 108.93,300.20 108.93,300.63 112.07,300.63 112.07,301.07 115.20,301.07 115.20,301.50 119.20,301.50 119.20,303.60 122.60,303.60 122.60,304.60 126.00,304.60 126.00,305.60 129.13,305.60 129.13,306.27 132.27,306.27 132.27,306.93 135.40,306.93 135.40,307.60 138.75,307.60 138.75,307.78 142.10,307.78 142.10,307.95 145.45,307.95 145.45,308.12 148.80,308.12 148.80,308.30 151.50,308.30 151.50,310.05 154.20,310.05 154.20,311.80 160.00,311.80 163.45,311.80 163.45,315.25 166.90,315.25 166.90,318.70 168.70,318.70 168.70,320.50 186.00,320.50 186.00,325.20 221.40,325.20 221.40,329.10 249.00,329.10" fill="none" stroke="#8cc2d8" stroke-width="2.4" stroke-linejoin="miter" stroke-linecap="butt"/>
<text transform="translate(268.50,275.90) scale(1,1.06)" font-size="13.8" text-anchor="start" font-weight="bold" fill="#111" >D</text>
<text x="410.80" y="272.20" font-size="8.2" text-anchor="middle" font-weight="bold" fill="#111" >Hasford score</text>
<line x1="304.70" y1="280.30" x2="304.70" y2="452.70" stroke="#1a1a1a" stroke-width="1.3"/>
<line x1="298.80" y1="452.20" x2="304.70" y2="452.20" stroke="#1a1a1a" stroke-width="1.3"/>
<text transform="translate(293.60,455.00) scale(1,1.18)" font-size="6.3" text-anchor="end" font-weight="normal" fill="#151515" >0.0</text>
<line x1="298.80" y1="417.92" x2="304.70" y2="417.92" stroke="#1a1a1a" stroke-width="1.3"/>
<text transform="translate(293.60,420.72) scale(1,1.18)" font-size="6.3" text-anchor="end" font-weight="normal" fill="#151515" >0.2</text>
<line x1="298.80" y1="383.64" x2="304.70" y2="383.64" stroke="#1a1a1a" stroke-width="1.3"/>
<text transform="translate(293.60,386.44) scale(1,1.18)" font-size="6.3" text-anchor="end" font-weight="normal" fill="#151515" >0.4</text>
<line x1="298.80" y1="349.36" x2="304.70" y2="349.36" stroke="#1a1a1a" stroke-width="1.3"/>
<text transform="translate(293.60,352.16) scale(1,1.18)" font-size="6.3" text-anchor="end" font-weight="normal" fill="#151515" >0.6</text>
<line x1="298.80" y1="315.08" x2="304.70" y2="315.08" stroke="#1a1a1a" stroke-width="1.3"/>
<text transform="translate(293.60,317.88) scale(1,1.18)" font-size="6.3" text-anchor="end" font-weight="normal" fill="#151515" >0.8</text>
<line x1="298.80" y1="280.80" x2="304.70" y2="280.80" stroke="#1a1a1a" stroke-width="1.3"/>
<text transform="translate(293.60,283.60) scale(1,1.18)" font-size="6.3" text-anchor="end" font-weight="normal" fill="#151515" >1.0</text>
<text x="0" y="0" font-size="8" text-anchor="middle" fill="#151515" transform="translate(276.60,372.00) rotate(-90) scale(1,1.1)">Relative survival</text>
<line x1="304.20" y1="452.20" x2="517.45" y2="452.20" stroke="#1a1a1a" stroke-width="1.3"/>
<line x1="304.70" y1="452.20" x2="304.70" y2="457.50" stroke="#1a1a1a" stroke-width="1.3"/>
<text transform="translate(304.70,472.00) scale(1,1.18)" font-size="6.3" text-anchor="middle" font-weight="normal" fill="#151515" >0</text>
<line x1="331.23" y1="452.20" x2="331.23" y2="457.50" stroke="#1a1a1a" stroke-width="1.3"/>
<text transform="translate(331.23,472.00) scale(1,1.18)" font-size="6.3" text-anchor="middle" font-weight="normal" fill="#151515" >1</text>
<line x1="357.76" y1="452.20" x2="357.76" y2="457.50" stroke="#1a1a1a" stroke-width="1.3"/>
<text transform="translate(357.76,472.00) scale(1,1.18)" font-size="6.3" text-anchor="middle" font-weight="normal" fill="#151515" >2</text>
<line x1="384.29" y1="452.20" x2="384.29" y2="457.50" stroke="#1a1a1a" stroke-width="1.3"/>
<text transform="translate(384.29,472.00) scale(1,1.18)" font-size="6.3" text-anchor="middle" font-weight="normal" fill="#151515" >3</text>
<line x1="410.82" y1="452.20" x2="410.82" y2="457.50" stroke="#1a1a1a" stroke-width="1.3"/>
<text transform="translate(410.82,472.00) scale(1,1.18)" font-size="6.3" text-anchor="middle" font-weight="normal" fill="#151515" >4</text>
<line x1="437.36" y1="452.20" x2="437.36" y2="457.50" stroke="#1a1a1a" stroke-width="1.3"/>
<text transform="translate(437.36,472.00) scale(1,1.18)" font-size="6.3" text-anchor="middle" font-weight="normal" fill="#151515" >5</text>
<line x1="463.89" y1="452.20" x2="463.89" y2="457.50" stroke="#1a1a1a" stroke-width="1.3"/>
<text transform="translate(463.89,472.00) scale(1,1.18)" font-size="6.3" text-anchor="middle" font-weight="normal" fill="#151515" >6</text>
<line x1="490.42" y1="452.20" x2="490.42" y2="457.50" stroke="#1a1a1a" stroke-width="1.3"/>
<text transform="translate(490.42,472.00) scale(1,1.18)" font-size="6.3" text-anchor="middle" font-weight="normal" fill="#151515" >7</text>
<line x1="516.95" y1="452.20" x2="516.95" y2="457.50" stroke="#1a1a1a" stroke-width="1.3"/>
<text transform="translate(516.95,472.00) scale(1,1.18)" font-size="6.3" text-anchor="middle" font-weight="normal" fill="#151515" >8</text>
<text transform="translate(410.80,486.90) scale(1,1.1)" font-size="8" text-anchor="middle" font-weight="normal" fill="#151515" >Years after diagnosis</text>
<text transform="translate(269.40,495.10) scale(1,1.1)" font-size="6.7" text-anchor="start" font-weight="normal" fill="#151515" >No. at risk</text>
<text transform="translate(270.80,503.80) scale(1,1.1)" font-size="5.8" text-anchor="start" font-weight="normal" fill="#151515" class="tb">LR</text>
<text transform="translate(307.20,503.80) scale(1,1.1)" font-size="5.8" text-anchor="end" font-weight="normal" fill="#151515" class="tb">212</text>
<text transform="translate(333.73,503.80) scale(1,1.1)" font-size="5.8" text-anchor="end" font-weight="normal" fill="#151515" class="tb">206</text>
<text transform="translate(360.26,503.80) scale(1,1.1)" font-size="5.8" text-anchor="end" font-weight="normal" fill="#151515" class="tb">195</text>
<text transform="translate(386.79,503.80) scale(1,1.1)" font-size="5.8" text-anchor="end" font-weight="normal" fill="#151515" class="tb">164</text>
<text transform="translate(413.32,503.80) scale(1,1.1)" font-size="5.8" text-anchor="end" font-weight="normal" fill="#151515" class="tb">144</text>
<text transform="translate(439.86,503.80) scale(1,1.1)" font-size="5.8" text-anchor="end" font-weight="normal" fill="#151515" class="tb">113</text>
<text transform="translate(466.39,503.80) scale(1,1.1)" font-size="5.8" text-anchor="end" font-weight="normal" fill="#151515" class="tb">88</text>
<text transform="translate(492.92,503.80) scale(1,1.1)" font-size="5.8" text-anchor="end" font-weight="normal" fill="#151515" class="tb">66</text>
<text transform="translate(519.45,503.80) scale(1,1.1)" font-size="5.8" text-anchor="end" font-weight="normal" fill="#151515" class="tb">45</text>
<text transform="translate(270.80,510.60) scale(1,1.1)" font-size="5.8" text-anchor="start" font-weight="normal" fill="#151515" class="tb">IR</text>
<text transform="translate(307.20,510.60) scale(1,1.1)" font-size="5.8" text-anchor="end" font-weight="normal" fill="#151515" class="tb">334</text>
<text transform="translate(333.73,510.60) scale(1,1.1)" font-size="5.8" text-anchor="end" font-weight="normal" fill="#151515" class="tb">322</text>
<text transform="translate(360.26,510.60) scale(1,1.1)" font-size="5.8" text-anchor="end" font-weight="normal" fill="#151515" class="tb">303</text>
<text transform="translate(386.79,510.60) scale(1,1.1)" font-size="5.8" text-anchor="end" font-weight="normal" fill="#151515" class="tb">246</text>
<text transform="translate(413.32,510.60) scale(1,1.1)" font-size="5.8" text-anchor="end" font-weight="normal" fill="#151515" class="tb">201</text>
<text transform="translate(439.86,510.60) scale(1,1.1)" font-size="5.8" text-anchor="end" font-weight="normal" fill="#151515" class="tb">170</text>
<text transform="translate(466.39,510.60) scale(1,1.1)" font-size="5.8" text-anchor="end" font-weight="normal" fill="#151515" class="tb">127</text>
<text transform="translate(492.92,510.60) scale(1,1.1)" font-size="5.8" text-anchor="end" font-weight="normal" fill="#151515" class="tb">100</text>
<text transform="translate(519.45,510.60) scale(1,1.1)" font-size="5.8" text-anchor="end" font-weight="normal" fill="#151515" class="tb">68</text>
<text transform="translate(270.80,517.30) scale(1,1.1)" font-size="5.8" text-anchor="start" font-weight="normal" fill="#151515" class="tb">HR</text>
<text transform="translate(307.20,517.30) scale(1,1.1)" font-size="5.8" text-anchor="end" font-weight="normal" fill="#151515" class="tb">119</text>
<text transform="translate(333.73,517.30) scale(1,1.1)" font-size="5.8" text-anchor="end" font-weight="normal" fill="#151515" class="tb">115</text>
<text transform="translate(360.26,517.30) scale(1,1.1)" font-size="5.8" text-anchor="end" font-weight="normal" fill="#151515" class="tb">107</text>
<text transform="translate(386.79,517.30) scale(1,1.1)" font-size="5.8" text-anchor="end" font-weight="normal" fill="#151515" class="tb">95</text>
<text transform="translate(413.32,517.30) scale(1,1.1)" font-size="5.8" text-anchor="end" font-weight="normal" fill="#151515" class="tb">79</text>
<text transform="translate(439.86,517.30) scale(1,1.1)" font-size="5.8" text-anchor="end" font-weight="normal" fill="#151515" class="tb">61</text>
<text transform="translate(466.39,517.30) scale(1,1.1)" font-size="5.8" text-anchor="end" font-weight="normal" fill="#151515" class="tb">45</text>
<text transform="translate(492.92,517.30) scale(1,1.1)" font-size="5.8" text-anchor="end" font-weight="normal" fill="#151515" class="tb">35</text>
<text transform="translate(519.45,517.30) scale(1,1.1)" font-size="5.8" text-anchor="end" font-weight="normal" fill="#151515" class="tb">23</text>
<line x1="320.60" y1="417.70" x2="337.60" y2="417.70" stroke="#b3102c" stroke-width="2.4"/>
<text transform="translate(343.60,420.70) scale(1,1.1)" font-size="8" text-anchor="start" font-weight="normal" fill="#151515" >LR</text>
<line x1="320.60" y1="426.40" x2="337.60" y2="426.40" stroke="#eba384" stroke-width="2.4"/>
<text transform="translate(343.60,429.40) scale(1,1.1)" font-size="8" text-anchor="start" font-weight="normal" fill="#151515" >IR</text>
<line x1="320.60" y1="435.10" x2="337.60" y2="435.10" stroke="#8cc2d8" stroke-width="2.4"/>
<text transform="translate(343.60,438.10) scale(1,1.1)" font-size="8" text-anchor="start" font-weight="normal" fill="#151515" >HR</text>
<text transform="translate(473.20,428.40) scale(1,1.1)" font-size="8" text-anchor="start" font-weight="normal" fill="#151515" >p = 0.063</text>
<polyline points="305.00,281.00 309.70,281.90 317.40,283.00 332.80,283.50 348.20,283.50 366.60,282.70 382.00,283.50 390.40,283.90 410.40,283.90 421.20,285.50 436.50,285.80 450.80,286.60 463.10,287.30 476.90,286.10 490.80,290.10 503.10,288.80 516.90,291.20" fill="none" stroke="#b3102c" stroke-width="2.4" stroke-linejoin="round" stroke-linecap="round"/>
<polyline points="305.00,281.00 317.40,281.50 332.80,282.40 345.00,282.40 360.50,285.80 375.00,289.60 384.20,293.00 398.10,294.70 410.40,295.30 424.20,297.30 436.50,296.20 450.80,298.90 463.10,299.60 476.90,297.30 490.80,295.80 503.10,295.00 516.90,299.30" fill="none" stroke="#eba384" stroke-width="2.4" stroke-linejoin="round" stroke-linecap="round"/>
<polyline points="305.00,281.00 317.40,280.80 325.10,281.90 332.80,285.00 343.50,293.50 375.00,294.20 384.20,294.70 398.10,298.40 410.40,299.30 424.20,304.20 436.50,309.60 450.80,308.50 463.10,313.20 476.90,311.90 490.80,314.70 503.10,313.20 516.90,311.60" fill="none" stroke="#8cc2d8" stroke-width="2.4" stroke-linejoin="round" stroke-linecap="round"/>
<text transform="translate(0.30,541.20) scale(1,1.06)" font-size="13.8" text-anchor="start" font-weight="bold" fill="#111" >E</text>
<text x="142.60" y="537.90" font-size="8.2" text-anchor="middle" font-weight="bold" fill="#111" >EUTOS score</text>
<line x1="36.50" y1="546.20" x2="36.50" y2="723.00" stroke="#1a1a1a" stroke-width="1.3"/>
<line x1="30.60" y1="722.50" x2="36.50" y2="722.50" stroke="#1a1a1a" stroke-width="1.3"/>
<text transform="translate(25.40,725.30) scale(1,1.18)" font-size="6.3" text-anchor="end" font-weight="normal" fill="#151515" >0.0</text>
<line x1="30.60" y1="687.34" x2="36.50" y2="687.34" stroke="#1a1a1a" stroke-width="1.3"/>
<text transform="translate(25.40,690.14) scale(1,1.18)" font-size="6.3" text-anchor="end" font-weight="normal" fill="#151515" >0.2</text>
<line x1="30.60" y1="652.18" x2="36.50" y2="652.18" stroke="#1a1a1a" stroke-width="1.3"/>
<text transform="translate(25.40,654.98) scale(1,1.18)" font-size="6.3" text-anchor="end" font-weight="normal" fill="#151515" >0.4</text>
<line x1="30.60" y1="617.02" x2="36.50" y2="617.02" stroke="#1a1a1a" stroke-width="1.3"/>
<text transform="translate(25.40,619.82) scale(1,1.18)" font-size="6.3" text-anchor="end" font-weight="normal" fill="#151515" >0.6</text>
<line x1="30.60" y1="581.86" x2="36.50" y2="581.86" stroke="#1a1a1a" stroke-width="1.3"/>
<text transform="translate(25.40,584.66) scale(1,1.18)" font-size="6.3" text-anchor="end" font-weight="normal" fill="#151515" >0.8</text>
<line x1="30.60" y1="546.70" x2="36.50" y2="546.70" stroke="#1a1a1a" stroke-width="1.3"/>
<text transform="translate(25.40,549.50) scale(1,1.18)" font-size="6.3" text-anchor="end" font-weight="normal" fill="#151515" >1.0</text>
<text x="0" y="0" font-size="8" text-anchor="middle" fill="#151515" transform="translate(8.40,640.10) rotate(-90) scale(1,1.1)">Overall survival</text>
<line x1="36.00" y1="722.50" x2="249.25" y2="722.50" stroke="#1a1a1a" stroke-width="1.3"/>
<line x1="36.50" y1="722.50" x2="36.50" y2="727.80" stroke="#1a1a1a" stroke-width="1.3"/>
<text transform="translate(36.50,743.00) scale(1,1.18)" font-size="6.3" text-anchor="middle" font-weight="normal" fill="#151515" >0</text>
<line x1="63.03" y1="722.50" x2="63.03" y2="727.80" stroke="#1a1a1a" stroke-width="1.3"/>
<text transform="translate(63.03,743.00) scale(1,1.18)" font-size="6.3" text-anchor="middle" font-weight="normal" fill="#151515" >1</text>
<line x1="89.56" y1="722.50" x2="89.56" y2="727.80" stroke="#1a1a1a" stroke-width="1.3"/>
<text transform="translate(89.56,743.00) scale(1,1.18)" font-size="6.3" text-anchor="middle" font-weight="normal" fill="#151515" >2</text>
<line x1="116.09" y1="722.50" x2="116.09" y2="727.80" stroke="#1a1a1a" stroke-width="1.3"/>
<text transform="translate(116.09,743.00) scale(1,1.18)" font-size="6.3" text-anchor="middle" font-weight="normal" fill="#151515" >3</text>
<line x1="142.62" y1="722.50" x2="142.62" y2="727.80" stroke="#1a1a1a" stroke-width="1.3"/>
<text transform="translate(142.62,743.00) scale(1,1.18)" font-size="6.3" text-anchor="middle" font-weight="normal" fill="#151515" >4</text>
<line x1="169.16" y1="722.50" x2="169.16" y2="727.80" stroke="#1a1a1a" stroke-width="1.3"/>
<text transform="translate(169.16,743.00) scale(1,1.18)" font-size="6.3" text-anchor="middle" font-weight="normal" fill="#151515" >5</text>
<line x1="195.69" y1="722.50" x2="195.69" y2="727.80" stroke="#1a1a1a" stroke-width="1.3"/>
<text transform="translate(195.69,743.00) scale(1,1.18)" font-size="6.3" text-anchor="middle" font-weight="normal" fill="#151515" >6</text>
<line x1="222.22" y1="722.50" x2="222.22" y2="727.80" stroke="#1a1a1a" stroke-width="1.3"/>
<text transform="translate(222.22,743.00) scale(1,1.18)" font-size="6.3" text-anchor="middle" font-weight="normal" fill="#151515" >7</text>
<line x1="248.75" y1="722.50" x2="248.75" y2="727.80" stroke="#1a1a1a" stroke-width="1.3"/>
<text transform="translate(248.75,743.00) scale(1,1.18)" font-size="6.3" text-anchor="middle" font-weight="normal" fill="#151515" >8</text>
<text transform="translate(142.60,758.30) scale(1,1.1)" font-size="8" text-anchor="middle" font-weight="normal" fill="#151515" >Years after diagnosis</text>
<text transform="translate(1.20,766.90) scale(1,1.1)" font-size="6.7" text-anchor="start" font-weight="normal" fill="#151515" >No. at risk</text>
<text transform="translate(2.60,775.90) scale(1,1.1)" font-size="5.8" text-anchor="start" font-weight="normal" fill="#151515" class="tb">LR</text>
<text transform="translate(39.00,775.90) scale(1,1.1)" font-size="5.8" text-anchor="end" font-weight="normal" fill="#151515" class="tb">569</text>
<text transform="translate(65.53,775.90) scale(1,1.1)" font-size="5.8" text-anchor="end" font-weight="normal" fill="#151515" class="tb">550</text>
<text transform="translate(92.06,775.90) scale(1,1.1)" font-size="5.8" text-anchor="end" font-weight="normal" fill="#151515" class="tb">515</text>
<text transform="translate(118.59,775.90) scale(1,1.1)" font-size="5.8" text-anchor="end" font-weight="normal" fill="#151515" class="tb">424</text>
<text transform="translate(145.12,775.90) scale(1,1.1)" font-size="5.8" text-anchor="end" font-weight="normal" fill="#151515" class="tb">356</text>
<text transform="translate(171.66,775.90) scale(1,1.1)" font-size="5.8" text-anchor="end" font-weight="normal" fill="#151515" class="tb">291</text>
<text transform="translate(198.19,775.90) scale(1,1.1)" font-size="5.8" text-anchor="end" font-weight="normal" fill="#151515" class="tb">219</text>
<text transform="translate(224.72,775.90) scale(1,1.1)" font-size="5.8" text-anchor="end" font-weight="normal" fill="#151515" class="tb">169</text>
<text transform="translate(251.25,775.90) scale(1,1.1)" font-size="5.8" text-anchor="end" font-weight="normal" fill="#151515" class="tb">114</text>
<text transform="translate(2.60,782.40) scale(1,1.1)" font-size="5.8" text-anchor="start" font-weight="normal" fill="#151515" class="tb">HR</text>
<text transform="translate(39.00,782.40) scale(1,1.1)" font-size="5.8" text-anchor="end" font-weight="normal" fill="#151515" class="tb">98</text>
<text transform="translate(65.53,782.40) scale(1,1.1)" font-size="5.8" text-anchor="end" font-weight="normal" fill="#151515" class="tb">95</text>
<text transform="translate(92.06,782.40) scale(1,1.1)" font-size="5.8" text-anchor="end" font-weight="normal" fill="#151515" class="tb">91</text>
<text transform="translate(118.59,782.40) scale(1,1.1)" font-size="5.8" text-anchor="end" font-weight="normal" fill="#151515" class="tb">82</text>
<text transform="translate(145.12,782.40) scale(1,1.1)" font-size="5.8" text-anchor="end" font-weight="normal" fill="#151515" class="tb">69</text>
<text transform="translate(171.66,782.40) scale(1,1.1)" font-size="5.8" text-anchor="end" font-weight="normal" fill="#151515" class="tb">54</text>
<text transform="translate(198.19,782.40) scale(1,1.1)" font-size="5.8" text-anchor="end" font-weight="normal" fill="#151515" class="tb">42</text>
<text transform="translate(224.72,782.40) scale(1,1.1)" font-size="5.8" text-anchor="end" font-weight="normal" fill="#151515" class="tb">33</text>
<text transform="translate(251.25,782.40) scale(1,1.1)" font-size="5.8" text-anchor="end" font-weight="normal" fill="#151515" class="tb">23</text>
<line x1="52.40" y1="696.50" x2="69.40" y2="696.50" stroke="#d87e57" stroke-width="2.4"/>
<text transform="translate(75.40,699.50) scale(1,1.1)" font-size="8" text-anchor="start" font-weight="normal" fill="#151515" >LR</text>
<line x1="52.40" y1="705.40" x2="69.40" y2="705.40" stroke="#5290bd" stroke-width="2.4"/>
<text transform="translate(75.40,708.40) scale(1,1.1)" font-size="8" text-anchor="start" font-weight="normal" fill="#151515" >HR</text>
<text transform="translate(205.00,698.10) scale(1,1.1)" font-size="8" text-anchor="start" font-weight="normal" fill="#151515" >p = 0.774</text>
<polyline points="36.50,546.60 39.25,546.60 39.25,546.90 42.00,546.90 42.00,547.20 44.75,547.20 44.75,547.50 47.50,547.50 47.50,547.80 50.85,547.80 50.85,548.50 54.20,548.50 54.20,549.20 57.55,549.20 57.55,550.30 60.90,550.30 60.90,551.40 64.25,551.40 64.25,552.30 67.60,552.30 67.60,553.20 71.00,553.20 71.00,554.00 74.40,554.00 74.40,554.80 77.75,554.80 77.75,555.35 81.10,555.35 81.10,555.90 84.45,555.90 84.45,556.75 87.80,556.75 87.80,557.60 91.20,557.60 91.20,559.00 94.60,559.00 94.60,560.40 97.95,560.40 97.95,561.50 101.30,561.50 101.30,562.60 104.60,562.60 104.60,563.53 107.90,563.53 107.90,564.47 111.20,564.47 111.20,565.40 114.55,565.40 114.55,566.10 117.90,566.10 117.90,566.80 120.58,566.80 120.58,567.12 123.25,567.12 123.25,567.45 125.92,567.45 125.92,567.77 128.60,567.77 128.60,568.10 132.00,568.10 132.00,569.10 135.40,569.10 135.40,570.10 138.07,570.10 138.07,570.60 140.75,570.60 140.75,571.10 143.43,571.10 143.43,571.60 146.10,571.60 146.10,572.10 148.80,572.10 148.80,573.25 151.50,573.25 151.50,574.40 154.33,574.40 154.33,574.47 157.17,574.47 157.17,574.53 160.00,574.53 160.00,574.60 163.45,574.60 163.45,575.50 166.90,575.50 166.90,576.40 170.37,576.40 170.37,577.00 173.83,577.00 173.83,577.60 177.30,577.60 177.30,578.20 180.20,578.20 180.20,578.93 183.10,578.93 183.10,579.67 186.00,579.67 186.00,580.40 188.88,580.40 188.88,580.53 191.76,580.53 191.76,580.67 194.63,580.67 194.63,580.80 197.51,580.80 197.51,580.93 200.39,580.93 200.39,581.07 203.27,581.07 203.27,581.20 206.14,581.20 206.14,581.33 209.02,581.33 209.02,581.47 211.90,581.47 211.90,581.60 215.37,581.60 215.37,582.00 218.83,582.00 218.83,582.40 222.30,582.40 222.30,582.80 225.27,582.80 225.27,582.90 228.24,582.90 228.24,583.00 231.21,583.00 231.21,583.10 234.19,583.10 234.19,583.20 237.16,583.20 237.16,583.30 240.13,583.30 240.13,583.40 243.10,583.40 243.10,583.50 243.10,587.70 249.00,587.70" fill="none" stroke="#d87e57" stroke-width="2.4" stroke-linejoin="miter" stroke-linecap="butt"/>
<polyline points="36.50,546.40 54.20,546.40 54.20,547.80 56.90,547.80 56.90,548.30 59.60,548.30 59.60,549.20 63.60,549.20 63.60,550.10 66.95,550.10 66.95,550.45 70.30,550.45 70.30,550.80 71.70,550.80 71.70,554.10 74.83,554.10 74.83,554.43 77.97,554.43 77.97,554.77 81.10,554.77 81.10,555.10 84.45,555.10 84.45,556.05 87.80,556.05 87.80,557.00 90.50,557.00 90.50,557.50 93.20,557.50 93.20,558.00 95.90,558.00 95.90,558.40 98.60,558.40 98.60,558.80 101.30,558.80 101.30,559.20 105.10,559.20 105.10,559.40 105.10,561.10 112.50,561.10 112.50,562.70 120.60,562.70 120.60,568.80 154.20,568.80 154.20,571.40 165.20,571.40 165.20,575.90 186.80,575.90 186.80,579.90 221.40,579.90 221.40,583.40 244.80,583.40 244.80,583.90 249.00,583.90" fill="none" stroke="#5290bd" stroke-width="2.4" stroke-linejoin="miter" stroke-linecap="butt"/>
<text transform="translate(268.50,541.20) scale(1,1.06)" font-size="13.8" text-anchor="start" font-weight="bold" fill="#111" >F</text>
<text x="410.80" y="537.90" font-size="8.2" text-anchor="middle" font-weight="bold" fill="#111" >EUTOS score</text>
<line x1="304.70" y1="546.20" x2="304.70" y2="723.00" stroke="#1a1a1a" stroke-width="1.3"/>
<line x1="298.80" y1="722.50" x2="304.70" y2="722.50" stroke="#1a1a1a" stroke-width="1.3"/>
<text transform="translate(293.60,725.30) scale(1,1.18)" font-size="6.3" text-anchor="end" font-weight="normal" fill="#151515" >0.0</text>
<line x1="298.80" y1="687.34" x2="304.70" y2="687.34" stroke="#1a1a1a" stroke-width="1.3"/>
<text transform="translate(293.60,690.14) scale(1,1.18)" font-size="6.3" text-anchor="end" font-weight="normal" fill="#151515" >0.2</text>
<line x1="298.80" y1="652.18" x2="304.70" y2="652.18" stroke="#1a1a1a" stroke-width="1.3"/>
<text transform="translate(293.60,654.98) scale(1,1.18)" font-size="6.3" text-anchor="end" font-weight="normal" fill="#151515" >0.4</text>
<line x1="298.80" y1="617.02" x2="304.70" y2="617.02" stroke="#1a1a1a" stroke-width="1.3"/>
<text transform="translate(293.60,619.82) scale(1,1.18)" font-size="6.3" text-anchor="end" font-weight="normal" fill="#151515" >0.6</text>
<line x1="298.80" y1="581.86" x2="304.70" y2="581.86" stroke="#1a1a1a" stroke-width="1.3"/>
<text transform="translate(293.60,584.66) scale(1,1.18)" font-size="6.3" text-anchor="end" font-weight="normal" fill="#151515" >0.8</text>
<line x1="298.80" y1="546.70" x2="304.70" y2="546.70" stroke="#1a1a1a" stroke-width="1.3"/>
<text transform="translate(293.60,549.50) scale(1,1.18)" font-size="6.3" text-anchor="end" font-weight="normal" fill="#151515" >1.0</text>
<text x="0" y="0" font-size="8" text-anchor="middle" fill="#151515" transform="translate(276.60,640.10) rotate(-90) scale(1,1.1)">Relative survival</text>
<line x1="304.20" y1="722.50" x2="517.45" y2="722.50" stroke="#1a1a1a" stroke-width="1.3"/>
<line x1="304.70" y1="722.50" x2="304.70" y2="727.80" stroke="#1a1a1a" stroke-width="1.3"/>
<text transform="translate(304.70,743.00) scale(1,1.18)" font-size="6.3" text-anchor="middle" font-weight="normal" fill="#151515" >0</text>
<line x1="331.23" y1="722.50" x2="331.23" y2="727.80" stroke="#1a1a1a" stroke-width="1.3"/>
<text transform="translate(331.23,743.00) scale(1,1.18)" font-size="6.3" text-anchor="middle" font-weight="normal" fill="#151515" >1</text>
<line x1="357.76" y1="722.50" x2="357.76" y2="727.80" stroke="#1a1a1a" stroke-width="1.3"/>
<text transform="translate(357.76,743.00) scale(1,1.18)" font-size="6.3" text-anchor="middle" font-weight="normal" fill="#151515" >2</text>
<line x1="384.29" y1="722.50" x2="384.29" y2="727.80" stroke="#1a1a1a" stroke-width="1.3"/>
<text transform="translate(384.29,743.00) scale(1,1.18)" font-size="6.3" text-anchor="middle" font-weight="normal" fill="#151515" >3</text>
<line x1="410.82" y1="722.50" x2="410.82" y2="727.80" stroke="#1a1a1a" stroke-width="1.3"/>
<text transform="translate(410.82,743.00) scale(1,1.18)" font-size="6.3" text-anchor="middle" font-weight="normal" fill="#151515" >4</text>
<line x1="437.36" y1="722.50" x2="437.36" y2="727.80" stroke="#1a1a1a" stroke-width="1.3"/>
<text transform="translate(437.36,743.00) scale(1,1.18)" font-size="6.3" text-anchor="middle" font-weight="normal" fill="#151515" >5</text>
<line x1="463.89" y1="722.50" x2="463.89" y2="727.80" stroke="#1a1a1a" stroke-width="1.3"/>
<text transform="translate(463.89,743.00) scale(1,1.18)" font-size="6.3" text-anchor="middle" font-weight="normal" fill="#151515" >6</text>
<line x1="490.42" y1="722.50" x2="490.42" y2="727.80" stroke="#1a1a1a" stroke-width="1.3"/>
<text transform="translate(490.42,743.00) scale(1,1.18)" font-size="6.3" text-anchor="middle" font-weight="normal" fill="#151515" >7</text>
<line x1="516.95" y1="722.50" x2="516.95" y2="727.80" stroke="#1a1a1a" stroke-width="1.3"/>
<text transform="translate(516.95,743.00) scale(1,1.18)" font-size="6.3" text-anchor="middle" font-weight="normal" fill="#151515" >8</text>
<text transform="translate(410.80,758.30) scale(1,1.1)" font-size="8" text-anchor="middle" font-weight="normal" fill="#151515" >Years after diagnosis</text>
<text transform="translate(269.40,766.90) scale(1,1.1)" font-size="6.7" text-anchor="start" font-weight="normal" fill="#151515" >No. at risk</text>
<text transform="translate(270.80,775.90) scale(1,1.1)" font-size="5.8" text-anchor="start" font-weight="normal" fill="#151515" class="tb">LR</text>
<text transform="translate(307.20,775.90) scale(1,1.1)" font-size="5.8" text-anchor="end" font-weight="normal" fill="#151515" class="tb">569</text>
<text transform="translate(333.73,775.90) scale(1,1.1)" font-size="5.8" text-anchor="end" font-weight="normal" fill="#151515" class="tb">550</text>
<text transform="translate(360.26,775.90) scale(1,1.1)" font-size="5.8" text-anchor="end" font-weight="normal" fill="#151515" class="tb">515</text>
<text transform="translate(386.79,775.90) scale(1,1.1)" font-size="5.8" text-anchor="end" font-weight="normal" fill="#151515" class="tb">424</text>
<text transform="translate(413.32,775.90) scale(1,1.1)" font-size="5.8" text-anchor="end" font-weight="normal" fill="#151515" class="tb">356</text>
<text transform="translate(439.86,775.90) scale(1,1.1)" font-size="5.8" text-anchor="end" font-weight="normal" fill="#151515" class="tb">291</text>
<text transform="translate(466.39,775.90) scale(1,1.1)" font-size="5.8" text-anchor="end" font-weight="normal" fill="#151515" class="tb">219</text>
<text transform="translate(492.92,775.90) scale(1,1.1)" font-size="5.8" text-anchor="end" font-weight="normal" fill="#151515" class="tb">169</text>
<text transform="translate(519.45,775.90) scale(1,1.1)" font-size="5.8" text-anchor="end" font-weight="normal" fill="#151515" class="tb">114</text>
<text transform="translate(270.80,782.40) scale(1,1.1)" font-size="5.8" text-anchor="start" font-weight="normal" fill="#151515" class="tb">HR</text>
<text transform="translate(307.20,782.40) scale(1,1.1)" font-size="5.8" text-anchor="end" font-weight="normal" fill="#151515" class="tb">98</text>
<text transform="translate(333.73,782.40) scale(1,1.1)" font-size="5.8" text-anchor="end" font-weight="normal" fill="#151515" class="tb">95</text>
<text transform="translate(360.26,782.40) scale(1,1.1)" font-size="5.8" text-anchor="end" font-weight="normal" fill="#151515" class="tb">91</text>
<text transform="translate(386.79,782.40) scale(1,1.1)" font-size="5.8" text-anchor="end" font-weight="normal" fill="#151515" class="tb">82</text>
<text transform="translate(413.32,782.40) scale(1,1.1)" font-size="5.8" text-anchor="end" font-weight="normal" fill="#151515" class="tb">69</text>
<text transform="translate(439.86,782.40) scale(1,1.1)" font-size="5.8" text-anchor="end" font-weight="normal" fill="#151515" class="tb">54</text>
<text transform="translate(466.39,782.40) scale(1,1.1)" font-size="5.8" text-anchor="end" font-weight="normal" fill="#151515" class="tb">42</text>
<text transform="translate(492.92,782.40) scale(1,1.1)" font-size="5.8" text-anchor="end" font-weight="normal" fill="#151515" class="tb">33</text>
<text transform="translate(519.45,782.40) scale(1,1.1)" font-size="5.8" text-anchor="end" font-weight="normal" fill="#151515" class="tb">23</text>
<line x1="320.60" y1="696.50" x2="337.60" y2="696.50" stroke="#d87e57" stroke-width="2.4"/>
<text transform="translate(343.60,699.50) scale(1,1.1)" font-size="8" text-anchor="start" font-weight="normal" fill="#151515" >LR</text>
<line x1="320.60" y1="705.40" x2="337.60" y2="705.40" stroke="#5290bd" stroke-width="2.4"/>
<text transform="translate(343.60,708.40) scale(1,1.1)" font-size="8" text-anchor="start" font-weight="normal" fill="#151515" >HR</text>
<text transform="translate(473.20,698.10) scale(1,1.1)" font-size="8" text-anchor="start" font-weight="normal" fill="#151515" >p = 0.591</text>
<polyline points="305.00,546.60 317.40,546.90 332.80,548.50 348.20,550.80 363.50,552.60 375.00,555.00 384.20,556.50 398.10,557.60 411.90,558.50 424.20,560.40 436.50,560.70 450.80,562.00 463.10,563.50 476.90,561.20 490.80,561.60 503.10,560.40 516.90,564.20" fill="none" stroke="#d87e57" stroke-width="2.4" stroke-linejoin="round" stroke-linecap="round"/>
<polyline points="305.00,546.60 317.40,545.80 328.20,547.40 343.50,552.00 355.80,553.10 368.20,553.80 375.00,555.00 384.20,557.00 398.10,562.20 411.90,561.20 424.20,562.20 436.50,567.30 450.80,566.20 463.10,568.80 476.90,567.80 490.80,571.50 503.10,570.40 516.90,569.30" fill="none" stroke="#5290bd" stroke-width="2.4" stroke-linejoin="round" stroke-linecap="round"/>
</svg>
</body></html>
